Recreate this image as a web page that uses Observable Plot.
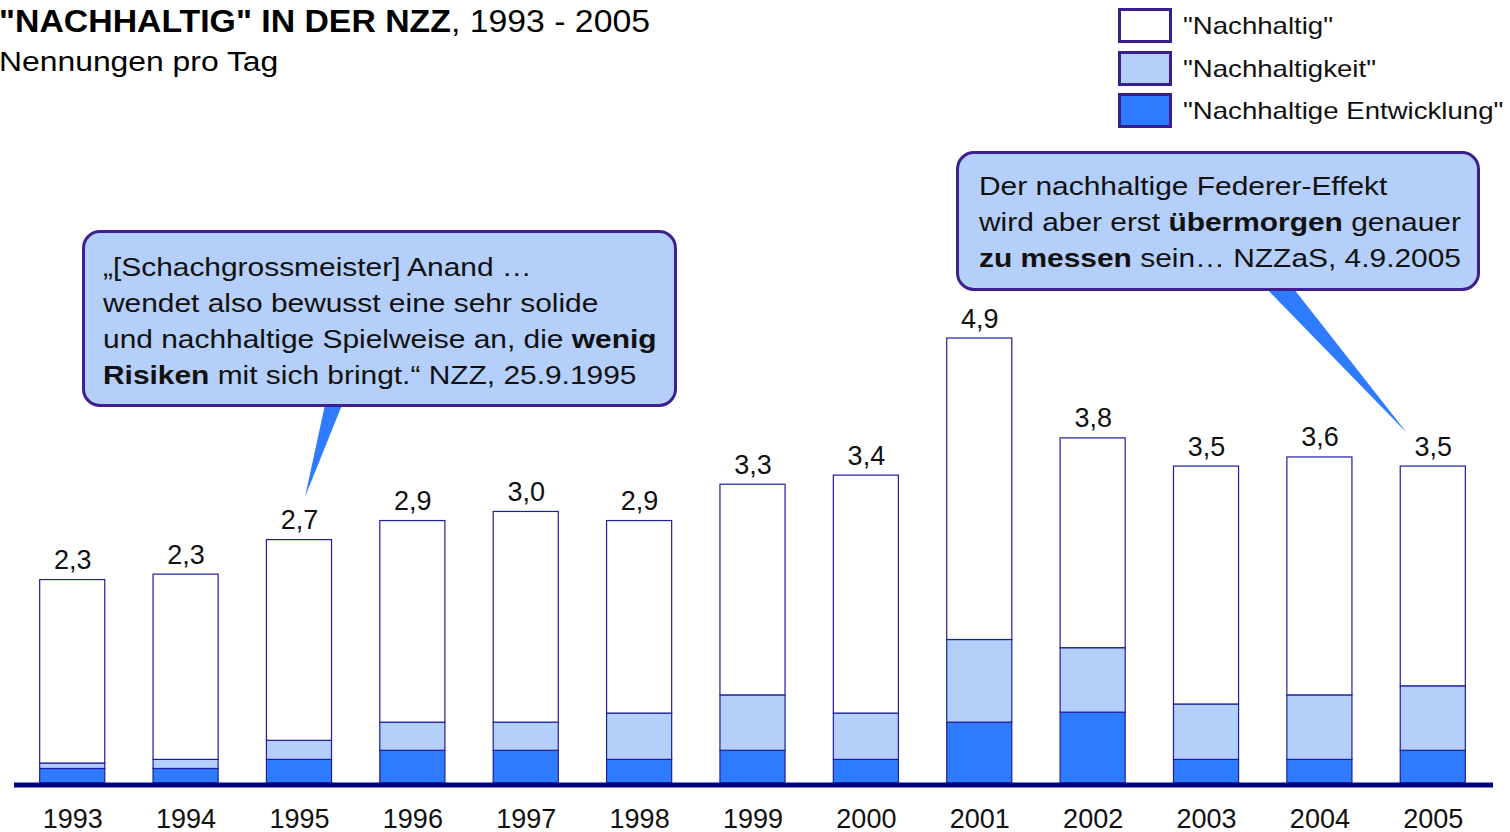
<!DOCTYPE html>
<html><head><meta charset="utf-8">
<script src="https://cdn.jsdelivr.net/npm/d3@7"></script>
<script src="https://cdn.jsdelivr.net/npm/@observablehq/plot@0.6"></script>
<style>
body{margin:0;background:#fff;overflow:hidden;font-family:"Liberation Sans",Arial,sans-serif;color:#000}
#wrap{position:relative;width:1510px;height:832px;overflow:hidden}
#chart{position:absolute;left:0;top:0}
.abs{position:absolute;white-space:nowrap}
.sx{transform:scaleX(1.15);transform-origin:0 0}
#title{left:-1px;top:4px;font-size:31px;line-height:35px;transform:scaleX(1.09);transform-origin:0 0}
#subtitle{left:-1px;top:46px;font-size:27px;line-height:32px;transform:scaleX(1.18);transform-origin:0 0}
.lg-box{position:absolute;left:1118px;width:54px;height:35px;box-sizing:border-box;border:3.5px solid #3a1d8e}
.lg-text{position:absolute;left:1183px;font-size:24px;line-height:30px;color:#111}
.callout{position:absolute;box-sizing:border-box;border:3px solid #3d1f8f;border-radius:18px;background:#b4cffa;font-size:26px;line-height:36px;color:#111}
.callout .lines{white-space:nowrap}
#pointers{position:absolute;left:0;top:0}
</style></head><body>
<div id="wrap">
  <div id="chart"></div>
  <div id="title" class="abs"><b>"NACHHALTIG" IN DER NZZ</b>, 1993 - 2005</div>
  <div id="subtitle" class="abs">Nennungen pro Tag</div>
  <div id="legend"></div>
  <svg id="pointers" width="1510" height="832"></svg>
  <div class="callout" style="left:82px;top:230px;width:595px;height:177px;padding:16px 0 0 18px">
    <div class="lines sx">„[Schachgrossmeister] Anand …<br>wendet also bewusst eine sehr solide<br>und nachhaltige Spielweise an, die <b>wenig</b><br><b>Risiken</b> mit sich bringt.“ NZZ, 25.9.1995</div>
  </div>
  <div class="callout" style="left:956px;top:151px;width:524px;height:140px;padding:14px 0 0 20px">
    <div class="lines sx">Der nachhaltige Federer-Effekt<br>wird aber erst <b>übermorgen</b> genauer<br><b>zu messen</b> sein… NZZaS, 4.9.2005</div>
  </div>
</div>
<script>
// ---- data ----
const years = [1993, 1994, 1995, 1996, 1997, 1998, 1999, 2000, 2001, 2002, 2003, 2004, 2005];
const totalLabels = ["2,3", "2,3", "2,7", "2,9", "3,0", "2,9", "3,3", "3,4", "4,9", "3,8", "3,5", "3,6", "3,5"];
const nachhaltig = [2.02, 2.04, 2.21, 2.22, 2.32, 2.12, 2.32, 2.62, 3.32, 2.31, 2.62, 2.62, 2.42];
const nachhaltigkeit = [0.06, 0.10, 0.21, 0.31, 0.31, 0.51, 0.61, 0.51, 0.91, 0.71, 0.61, 0.71, 0.71];
const entwicklung = [0.16, 0.16, 0.26, 0.36, 0.36, 0.26, 0.36, 0.26, 0.67, 0.78, 0.26, 0.26, 0.36];
const seriesNames = ['"Nachhaltige Entwicklung"', '"Nachhaltigkeit"', '"Nachhaltig"'];
const seriesColors = ["#2f7bff", "#b4cffa", "#ffffff"];
const legendOrder = ['"Nachhaltig"', '"Nachhaltigkeit"', '"Nachhaltige Entwicklung"'];

// long-format table (stack order: bottom to top)
const rows = [];
years.forEach((year, i) => {
  rows.push({year, series: seriesNames[0], value: entwicklung[i]});
  rows.push({year, series: seriesNames[1], value: nachhaltigkeit[i]});
  rows.push({year, series: seriesNames[2], value: nachhaltig[i]});
});
const totalsRows = years.map((year, i) => ({
  year, total: entwicklung[i] + nachhaltigkeit[i] + nachhaltig[i], label: totalLabels[i]
}));

const chart = Plot.plot({
  width: 1510,
  height: 832,
  marginTop: 338,
  marginBottom: 49,
  marginLeft: 17,
  marginRight: 22,
  style: {fontFamily: "'Liberation Sans', Arial, sans-serif", background: "transparent", color: "#000"},
  x: {type: "band", domain: years, paddingInner: 0.426, paddingOuter: 0.2, round: false, axis: null},
  y: {domain: [0, 4.9], axis: null},
  color: {domain: seriesNames, range: seriesColors},
  marks: [
    Plot.barY(rows, {x: "year", y: "value", fill: "series", stroke: "#1e1e9c", strokeWidth: 1.2}),
    Plot.text(totalsRows, {x: "year", y: "total", text: "label", dy: -11, lineAnchor: "bottom", fontSize: 27, fill: "#111"}),
    Plot.text(years, {x: d => d, text: d => String(d), frameAnchor: "bottom", dy: 44, lineAnchor: "bottom", fontSize: 27, fill: "#111"}),
    Plot.ruleY([0], {stroke: "#000080", strokeWidth: 5, insetLeft: -3, insetRight: -5, dy: 1.5})
  ]
});
document.getElementById("chart").appendChild(chart);

// legend
const legend = document.getElementById("legend");
legendOrder.forEach((name, i) => {
  const top = 8 + i * 42.5;
  const box = document.createElement("div");
  box.className = "lg-box";
  box.style.top = top + "px";
  box.style.background = seriesColors[seriesNames.indexOf(name)];
  legend.appendChild(box);
  const t = document.createElement("div");
  t.className = "lg-text abs sx";
  t.style.top = (top + 3) + "px";
  t.textContent = name;
  legend.appendChild(t);
});

// callout pointers
const ptr = d3.select("#pointers");
ptr.append("polygon").attr("points", "326,400 344,400 305,497").attr("fill", "#2f7bff");
ptr.append("polygon").attr("points", "1262,284 1290,284 1407,433").attr("fill", "#2f7bff");
</script>
</body></html>
